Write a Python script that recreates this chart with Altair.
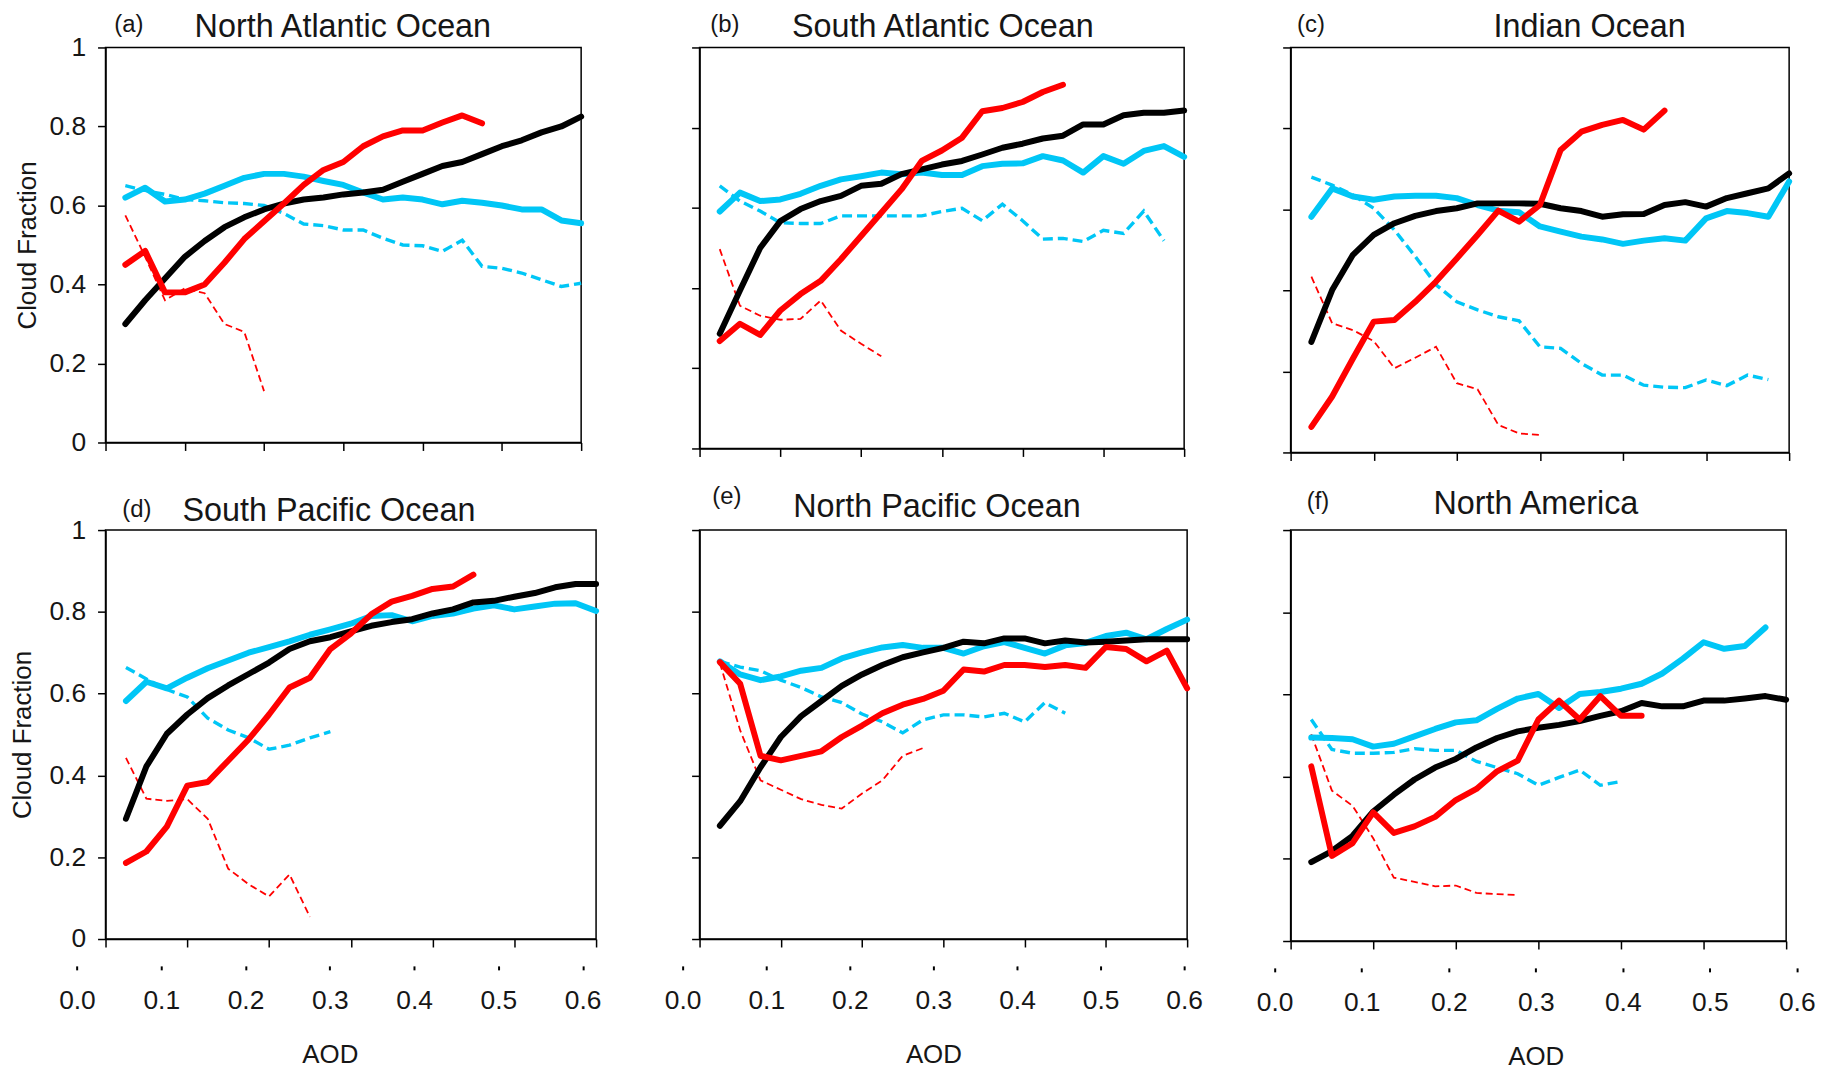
import altair as alt
import pandas as pd

FONT = "Liberation Sans"
TXT = "#161616"

AOD_STEP = 0.025
AOD_TICKS = [0.0, 0.1, 0.2, 0.3, 0.4, 0.5, 0.6]
CF_TICKS = [0.0, 0.2, 0.4, 0.6, 0.8, 1.0]

# ---------------- data (cloud fraction at AOD = 0.025, 0.050, ...) ----------------
# (a) North Atlantic Ocean
NATL_BLACK = [0.30, 0.36, 0.415, 0.47, 0.51, 0.545, 0.57, 0.59, 0.605, 0.615, 0.62, 0.628,
              0.633, 0.64, 0.66, 0.68, 0.70, 0.71, 0.73, 0.75, 0.765, 0.785, 0.80, 0.825]
NATL_CYAN = [0.62, 0.645, 0.61, 0.615, 0.63, 0.65, 0.67, 0.68, 0.68, 0.673, 0.662, 0.652,
             0.633, 0.615, 0.62, 0.615, 0.603, 0.612, 0.607, 0.60, 0.59, 0.59, 0.562, 0.555]
NATL_RED = [0.45, 0.485, 0.38, 0.38, 0.40, 0.455, 0.515, 0.56, 0.605, 0.652, 0.69, 0.71,
            0.75, 0.775, 0.79, 0.79, 0.81, 0.828, 0.808]
NATL_CYAN_D = [0.65, 0.638, 0.628, 0.615, 0.612, 0.607, 0.605, 0.60, 0.58, 0.553, 0.549, 0.538,
               0.538, 0.517, 0.50, 0.498, 0.484, 0.512, 0.446, 0.441, 0.429, 0.412, 0.395, 0.403]
NATL_RED_D = [0.575, 0.47, 0.36, 0.39, 0.378, 0.30, 0.28, 0.13]

# (b) South Atlantic Ocean
SATL_BLACK = [0.286, 0.394, 0.50, 0.567, 0.597, 0.617, 0.63, 0.655, 0.66, 0.684, 0.696, 0.708,
              0.717, 0.733, 0.75, 0.76, 0.773, 0.78, 0.808, 0.808, 0.831, 0.837, 0.837, 0.843]
SATL_CYAN = [0.591, 0.638, 0.617, 0.621, 0.635, 0.655, 0.671, 0.679, 0.688, 0.684, 0.688, 0.682,
             0.682, 0.704, 0.71, 0.711, 0.729, 0.718, 0.688, 0.729, 0.71, 0.742, 0.754, 0.727]
SATL_RED = [0.268, 0.311, 0.283, 0.344, 0.385, 0.418, 0.472, 0.53, 0.588, 0.646, 0.717, 0.743,
            0.775, 0.841, 0.849, 0.864, 0.889, 0.907]
SATL_CYAN_D = [0.655, 0.617, 0.592, 0.563, 0.561, 0.561, 0.58, 0.58, 0.58, 0.58, 0.58, 0.591,
               0.599, 0.568, 0.609, 0.568, 0.522, 0.524, 0.516, 0.544, 0.536, 0.592, 0.518]
SATL_RED_D = [0.497, 0.356, 0.331, 0.321, 0.323, 0.369, 0.294, 0.261, 0.23]

# (c) Indian Ocean
IND_BLACK = [0.273, 0.401, 0.488, 0.537, 0.566, 0.584, 0.596, 0.603, 0.615, 0.615, 0.615, 0.614,
             0.603, 0.596, 0.582, 0.588, 0.589, 0.611, 0.618, 0.607, 0.628, 0.64, 0.652, 0.689]
IND_CYAN = [0.582, 0.652, 0.632, 0.624, 0.632, 0.634, 0.634, 0.628, 0.611, 0.597, 0.593, 0.558,
            0.545, 0.533, 0.526, 0.515, 0.523, 0.529, 0.523, 0.578, 0.596, 0.591, 0.582, 0.669]
IND_RED = [0.063, 0.138, 0.232, 0.323, 0.327, 0.372, 0.422, 0.479, 0.537, 0.597, 0.57, 0.611,
           0.747, 0.792, 0.809, 0.821, 0.797, 0.844]
IND_CYAN_D = [0.68, 0.66, 0.636, 0.603, 0.549, 0.484, 0.414, 0.372, 0.352, 0.335, 0.325, 0.261,
              0.257, 0.22, 0.191, 0.191, 0.166, 0.161, 0.16, 0.179, 0.165, 0.191, 0.18]
IND_RED_D = [0.434, 0.319, 0.302, 0.275, 0.208, 0.234, 0.261, 0.171, 0.156, 0.068, 0.047, 0.043]

# (d) South Pacific Ocean
SPAC_BLACK = [0.294, 0.422, 0.502, 0.549, 0.589, 0.62, 0.648, 0.676, 0.709, 0.728, 0.738, 0.752,
              0.766, 0.775, 0.782, 0.796, 0.806, 0.823, 0.827, 0.837, 0.846, 0.86, 0.868, 0.868]
SPAC_CYAN = [0.582, 0.629, 0.613, 0.639, 0.662, 0.681, 0.70, 0.714, 0.728, 0.744, 0.757, 0.771,
             0.79, 0.792, 0.777, 0.79, 0.796, 0.808, 0.816, 0.806, 0.813, 0.82, 0.821, 0.802]
SPAC_RED = [0.186, 0.214, 0.275, 0.375, 0.384, 0.436, 0.488, 0.549, 0.615, 0.639, 0.709, 0.747,
            0.794, 0.825, 0.839, 0.856, 0.862, 0.891]
SPAC_CYAN_D = [0.664, 0.636, 0.61, 0.592, 0.54, 0.511, 0.492, 0.464, 0.474, 0.492, 0.507]
SPAC_RED_D = [0.443, 0.343, 0.338, 0.342, 0.294, 0.172, 0.134, 0.104, 0.158, 0.054]

# (e) North Pacific Ocean
NPAC_BLACK = [0.277, 0.337, 0.42, 0.494, 0.545, 0.582, 0.619, 0.647, 0.67, 0.689, 0.701, 0.712,
              0.727, 0.723, 0.735, 0.735, 0.723, 0.73, 0.725, 0.727, 0.73, 0.733, 0.733, 0.733]
NPAC_CYAN = [0.679, 0.647, 0.633, 0.642, 0.656, 0.663, 0.686, 0.701, 0.713, 0.719, 0.712, 0.712,
             0.698, 0.716, 0.726, 0.712, 0.698, 0.718, 0.724, 0.741, 0.749, 0.733, 0.758, 0.781]
NPAC_RED = [0.677, 0.624, 0.448, 0.437, 0.448, 0.459, 0.494, 0.522, 0.552, 0.573, 0.587, 0.607,
            0.659, 0.654, 0.67, 0.67, 0.665, 0.67, 0.663, 0.714, 0.709, 0.679, 0.705, 0.613]
NPAC_CYAN_D = [0.679, 0.665, 0.656, 0.633, 0.615, 0.592, 0.578, 0.55, 0.531, 0.504, 0.536, 0.548,
               0.548, 0.543, 0.552, 0.531, 0.578, 0.552]
NPAC_RED_D = [0.675, 0.51, 0.388, 0.365, 0.342, 0.328, 0.319, 0.356, 0.388, 0.448, 0.467]

# (f) North America
NAM_BLACK = [0.192, 0.219, 0.256, 0.315, 0.356, 0.393, 0.422, 0.443, 0.471, 0.494, 0.51, 0.519,
             0.526, 0.535, 0.548, 0.559, 0.579, 0.571, 0.571, 0.585, 0.585, 0.59, 0.596, 0.587]
NAM_CYAN = [0.495, 0.494, 0.491, 0.473, 0.48, 0.498, 0.516, 0.532, 0.537, 0.565, 0.59, 0.601,
            0.567, 0.601, 0.606, 0.614, 0.626, 0.651, 0.687, 0.727, 0.711, 0.718, 0.763]
NAM_RED = [0.425, 0.207, 0.238, 0.313, 0.263, 0.279, 0.302, 0.343, 0.37, 0.413, 0.439, 0.539,
           0.585, 0.539, 0.596, 0.548, 0.548]
NAM_CYAN_D = [0.539, 0.466, 0.457, 0.457, 0.459, 0.468, 0.464, 0.464, 0.437, 0.422, 0.407, 0.379,
              0.398, 0.416, 0.379, 0.388]
NAM_RED_D = [0.503, 0.366, 0.329, 0.25, 0.154, 0.144, 0.133, 0.135, 0.117, 0.114, 0.112]

PANELS = [
    {"tag": "(a)", "name": "North Atlantic Ocean", "black": NATL_BLACK, "cyan": NATL_CYAN,
     "red": NATL_RED, "cyan_d": NATL_CYAN_D, "red_d": NATL_RED_D},
    {"tag": "(b)", "name": "South Atlantic Ocean", "black": SATL_BLACK, "cyan": SATL_CYAN,
     "red": SATL_RED, "cyan_d": SATL_CYAN_D, "red_d": SATL_RED_D},
    {"tag": "(c)", "name": "Indian Ocean", "black": IND_BLACK, "cyan": IND_CYAN,
     "red": IND_RED, "cyan_d": IND_CYAN_D, "red_d": IND_RED_D},
    {"tag": "(d)", "name": "South Pacific Ocean", "black": SPAC_BLACK, "cyan": SPAC_CYAN,
     "red": SPAC_RED, "cyan_d": SPAC_CYAN_D, "red_d": SPAC_RED_D},
    {"tag": "(e)", "name": "North Pacific Ocean", "black": NPAC_BLACK, "cyan": NPAC_CYAN,
     "red": NPAC_RED, "cyan_d": NPAC_CYAN_D, "red_d": NPAC_RED_D},
    {"tag": "(f)", "name": "North America", "black": NAM_BLACK, "cyan": NAM_CYAN,
     "red": NAM_RED, "cyan_d": NAM_CYAN_D, "red_d": NAM_RED_D},
]

# ---------------- layout / style ----------------
LAYOUT = [
    dict(w=478, h=397, tag_x=23, tag_pad=11, name_x=238, name_pad=4, ylab=True, ytp=9, lab=None),
    dict(w=487, h=403, tag_x=25, tag_pad=11, name_x=244, name_pad=4, ylab=False, ytp=9, lab=None),
    dict(w=501, h=407, tag_x=20, tag_pad=11, name_x=300, name_pad=4, ylab=False, ytp=9, lab=None),
    dict(w=493, h=411, tag_x=31, tag_pad=9, name_x=224, name_pad=3, ylab=True, ytp=14, lab=[-28.7, 479.5]),
    dict(w=490, h=411, tag_x=27, tag_pad=22, name_x=238, name_pad=6.5, ylab=False, ytp=9, lab=[-17, 487]),
    dict(w=498, h=413, tag_x=27, tag_pad=17, name_x=246, name_pad=10, ylab=False, ytp=9, lab=[-16, 508.7]),
]

STYLE = {
    "cyan_d": dict(color="#00C6F6", strokeWidth=3.4, strokeDash=[10, 5]),
    "red_d": dict(color="#FF0000", strokeWidth=1.8, strokeDash=[7, 4]),
    "cyan": dict(color="#00C6F6", strokeWidth=6, strokeCap="round", strokeJoin="round"),
    "black": dict(color="#000000", strokeWidth=6, strokeCap="round", strokeJoin="round"),
    "red": dict(color="#FF0000", strokeWidth=6, strokeCap="round", strokeJoin="round"),
}
DRAW_ORDER = ["cyan_d", "red_d", "cyan", "black", "red"]


def series_df(vals):
    return pd.DataFrame({"aod": [round((k + 1) * AOD_STEP, 3) for k in range(len(vals))],
                         "cf": vals})


def make_panel(p, lay):
    xs = alt.Scale(domain=[0, 0.6], nice=False, zero=False)
    ys = alt.Scale(domain=[0, 1], nice=False, zero=False)
    yaxis_kw = dict(values=CF_TICKS, labels=lay["ylab"], format=".1~f", labelFontSize=26.5,
                    labelPadding=12, labelColor=TXT, tickSize=8, tickWidth=1.5, tickColor="black",
                    domain=True, domainColor="black", domainWidth=1.5, grid=False)
    if lay["ylab"]:
        yaxis = alt.Axis(title="Cloud Fraction", titleFontSize=26, titleFontWeight="normal",
                         titleColor=TXT, titlePadding=lay["ytp"], **yaxis_kw)
    else:
        yaxis = alt.Axis(title=None, **yaxis_kw)
    xaxis = alt.Axis(values=AOD_TICKS, labels=False, tickSize=8, tickWidth=1.5, tickColor="black",
                     domain=True, domainColor="black", domainWidth=1.5, grid=False, title=None)

    layers = []
    for i, key in enumerate(DRAW_ORDER):
        layers.append(
            alt.Chart(series_df(p[key])).mark_line(**STYLE[key]).encode(
                x=alt.X("aod:Q", scale=xs, axis=xaxis if i == 0 else None),
                y=alt.Y("cf:Q", scale=ys, axis=yaxis),
            )
        )

    carrier = series_df(p["black"])
    name_axis = alt.Axis(orient="top", domain=False, ticks=False, labels=False, grid=False,
                         title=p["name"], titleFontSize=32.5, titleFontWeight="normal",
                         titleColor=TXT, titlePadding=lay["name_pad"], titleX=lay["name_x"],
                         titleAlign="center", titleBaseline="bottom")
    tag_axis = alt.Axis(orient="top", domain=False, ticks=False, labels=False, grid=False,
                        title=p["tag"], titleFontSize=24, titleFontWeight="normal",
                        titleColor=TXT, titlePadding=lay["tag_pad"], titleX=lay["tag_x"],
                        titleAlign="center", titleBaseline="bottom")
    layers.append(alt.Chart(carrier).mark_line(opacity=0).encode(
        x=alt.X("aod:Q", scale=xs, axis=name_axis),
        y=alt.Y("cf:Q", scale=ys, axis=yaxis)))
    layers.append(alt.Chart(carrier).mark_line(opacity=0).encode(
        x=alt.X("aod:Q", scale=xs, axis=tag_axis),
        y=alt.Y("cf:Q", scale=ys, axis=yaxis)))

    if lay["lab"] is not None:
        lab_axis = alt.Axis(orient="bottom", offset=27, domain=False, values=AOD_TICKS,
                            format=".1f", labelFontSize=26.5, labelPadding=18, labelColor=TXT,
                            labelFlush=False, labelOverlap=False,
                            tickSize=4, tickWidth=2, tickColor="black", grid=False,
                            title="AOD", titleFontSize=26, titleFontWeight="normal",
                            titleColor=TXT, titlePadding=28)
        layers.append(alt.Chart(carrier).mark_line(opacity=0).encode(
            x=alt.X("aod:Q", scale=alt.Scale(domain=[0, 0.6], range=lay["lab"], nice=False,
                                             zero=False), axis=lab_axis),
            y=alt.Y("cf:Q", scale=ys, axis=yaxis)))

    return alt.layer(*layers).resolve_scale(x="independent").properties(
        width=lay["w"], height=lay["h"])


charts = [make_panel(p, lay) for p, lay in zip(PANELS, LAYOUT)]

chart = alt.concat(*charts, columns=3, spacing={"row": 78, "column": 104},
                   bounds="flush", align="each").properties(
    padding={"left": 0, "top": -1, "right": 0, "bottom": 0}
).configure(font=FONT).configure_view(stroke="black", strokeWidth=1.5, fill="white")

chart.save("out.html", embed_options={"renderer": "svg", "actions": False})
